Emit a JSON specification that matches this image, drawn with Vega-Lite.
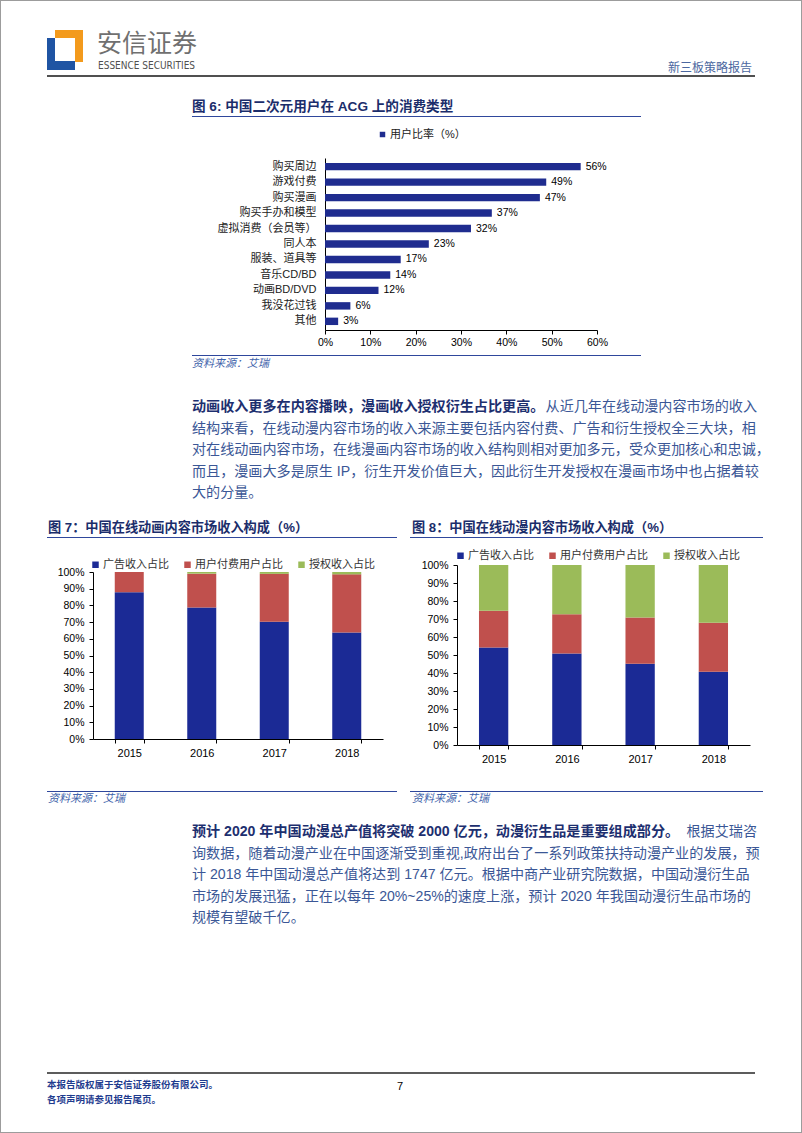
{
"$schema":"https://vega.github.io/schema/vega-lite/v6.json",
"width":802,"height":1133,
"autosize":{"type":"none"},
"padding":0,
"background":"white",
"view":{"stroke":"#9c9c9c","strokeWidth":2},
"config":{"font":"Liberation Sans, Noto Sans CJK SC","axis":{"grid":false,"domainColor":"#000","tickColor":"#000","labelColor":"#000","labelFont":"Liberation Sans, Noto Sans CJK SC"},"legend":{"labelFont":"Liberation Sans, Noto Sans CJK SC"}},
"datasets":{
"fig6":[{"cat":"购买周边","v":0.564,"s":"用户比率（%）"},{"cat":"游戏付费","v":0.488,"s":"用户比率（%）"},{"cat":"购买漫画","v":0.474,"s":"用户比率（%）"},{"cat":"购买手办和模型","v":0.368,"s":"用户比率（%）"},{"cat":"虚拟消费（会员等）","v":0.322,"s":"用户比率（%）"},{"cat":"同人本","v":0.229,"s":"用户比率（%）"},{"cat":"服装、道具等","v":0.167,"s":"用户比率（%）"},{"cat":"音乐CD/BD","v":0.144,"s":"用户比率（%）"},{"cat":"动画BD/DVD","v":0.118,"s":"用户比率（%）"},{"cat":"我没花过钱","v":0.056,"s":"用户比率（%）"},{"cat":"其他","v":0.029,"s":"用户比率（%）"}],
"fig7":[{"year":"2015","s":"广告收入占比","o":1,"v":0.879},{"year":"2015","s":"用户付费用户占比","o":2,"v":0.121},{"year":"2015","s":"授权收入占比","o":3,"v":0},{"year":"2016","s":"广告收入占比","o":1,"v":0.788},{"year":"2016","s":"用户付费用户占比","o":2,"v":0.202},{"year":"2016","s":"授权收入占比","o":3,"v":0.01},{"year":"2017","s":"广告收入占比","o":1,"v":0.702},{"year":"2017","s":"用户付费用户占比","o":2,"v":0.287},{"year":"2017","s":"授权收入占比","o":3,"v":0.011},{"year":"2018","s":"广告收入占比","o":1,"v":0.638},{"year":"2018","s":"用户付费用户占比","o":2,"v":0.348},{"year":"2018","s":"授权收入占比","o":3,"v":0.014}],
"fig8":[{"year":"2015","s":"广告收入占比","o":1,"v":0.541},{"year":"2015","s":"用户付费用户占比","o":2,"v":0.205},{"year":"2015","s":"授权收入占比","o":3,"v":0.254},{"year":"2016","s":"广告收入占比","o":1,"v":0.509},{"year":"2016","s":"用户付费用户占比","o":2,"v":0.217},{"year":"2016","s":"授权收入占比","o":3,"v":0.274},{"year":"2017","s":"广告收入占比","o":1,"v":0.452},{"year":"2017","s":"用户付费用户占比","o":2,"v":0.257},{"year":"2017","s":"授权收入占比","o":3,"v":0.291},{"year":"2018","s":"广告收入占比","o":1,"v":0.407},{"year":"2018","s":"用户付费用户占比","o":2,"v":0.272},{"year":"2018","s":"授权收入占比","o":3,"v":0.321}],
"p1":[{"line":1,"part":"b","text":"动画收入更多在内容播映，漫画收入授权衍生占比更高。"},{"line":1,"part":"t","text":"从近几年在线动漫内容市场的收入"},{"line":2,"part":"n","text":"结构来看，在线动漫内容市场的收入来源主要包括内容付费、广告和衍生授权全三大块，相"},{"line":3,"part":"n","text":"对在线动画内容市场，在线漫画内容市场的收入结构则相对更加多元，受众更加核心和忠诚，"},{"line":4,"part":"n","text":"而且，漫画大多是原生 IP，衍生开发价值巨大，因此衍生开发授权在漫画市场中也占据着较"},{"line":5,"part":"n","text":"大的分量。"}],
"p2":[{"line":1,"part":"b","text":"预计 2020 年中国动漫总产值将突破 2000 亿元，动漫衍生品是重要组成部分。"},{"line":1,"part":"t","text":"根据艾瑞咨"},{"line":2,"part":"n","text":"询数据，随着动漫产业在中国逐渐受到重视,政府出台了一系列政策扶持动漫产业的发展，预"},{"line":3,"part":"n","text":"计 2018 年中国动漫总产值将达到 1747 亿元。根据中商产业研究院数据，中国动漫衍生品"},{"line":4,"part":"n","text":"市场的发展迅猛，正在以每年 20%~25%的速度上涨，预计 2020 年我国动漫衍生品市场的"},{"line":5,"part":"n","text":"规模有望破千亿。"}]
},
"resolve":{"scale":{"x":"independent","y":"independent","color":"independent"},"axis":{"x":"independent","y":"independent"},"legend":{"color":"independent"}},
"layer":[
{"data":{"values":[{}]},
 "layer":[
  {"mark":{"type":"rect","color":"#f39a1c"},"encoding":{"x":{"datum":55,"type":"quantitative","scale":{"domain":[0,802],"nice":false,"zero":false},"axis":null},"x2":{"datum":83},"y":{"datum":30,"type":"quantitative","scale":{"domain":[0,1133],"reverse":true,"nice":false,"zero":false},"axis":null},"y2":{"datum":38}}},
  {"mark":{"type":"rect","color":"#f39a1c"},"encoding":{"x":{"datum":75,"type":"quantitative"},"x2":{"datum":83},"y":{"datum":30,"type":"quantitative"},"y2":{"datum":62}}},
  {"mark":{"type":"rect","color":"#1f54a3"},"encoding":{"x":{"datum":47,"type":"quantitative"},"x2":{"datum":55},"y":{"datum":38,"type":"quantitative"},"y2":{"datum":70}}},
  {"mark":{"type":"rect","color":"#1f54a3"},"encoding":{"x":{"datum":47,"type":"quantitative"},"x2":{"datum":75},"y":{"datum":61,"type":"quantitative"},"y2":{"datum":70}}},
  {"mark":{"type":"text","align":"left","baseline":"middle","fontSize":25,"color":"#707070","font":"Noto Sans CJK SC"},"encoding":{"x":{"datum":97,"type":"quantitative"},"y":{"datum":43.5,"type":"quantitative"},"text":{"value":"安信证券"}}},
  {"mark":{"type":"text","align":"left","baseline":"middle","fontSize":10,"color":"#505050","font":"DejaVu Sans Condensed, Liberation Sans Narrow, Liberation Sans"},"encoding":{"x":{"datum":98,"type":"quantitative"},"y":{"datum":65.5,"type":"quantitative"},"text":{"value":"ESSENCE SECURITIES"}}},
  {"mark":{"type":"text","align":"right","baseline":"middle","fontSize":12,"color":"#4b67a0"},"encoding":{"x":{"datum":752,"type":"quantitative"},"y":{"datum":67.5,"type":"quantitative"},"text":{"value":"新三板策略报告"}}},
  {"mark":{"type":"rule","color":"#505050","strokeWidth":2},"encoding":{"x":{"datum":47,"type":"quantitative"},"x2":{"datum":755},"y":{"datum":76,"type":"quantitative"}}},
  {"mark":{"type":"text","align":"left","baseline":"middle","fontSize":13.6,"fontWeight":"bold","color":"#1b2d6b"},"encoding":{"x":{"datum":192,"type":"quantitative"},"y":{"datum":107,"type":"quantitative"},"text":{"value":"图 6: 中国二次元用户在 ACG 上的消费类型"}}},
  {"mark":{"type":"rule","color":"#2f479c","strokeWidth":1},"encoding":{"x":{"datum":192,"type":"quantitative"},"x2":{"datum":641},"y":{"datum":116.5,"type":"quantitative"}}},
  {"mark":{"type":"rule","color":"#2f479c","strokeWidth":1},"encoding":{"x":{"datum":192,"type":"quantitative"},"x2":{"datum":641},"y":{"datum":355.5,"type":"quantitative"}}},
  {"mark":{"type":"text","align":"left","baseline":"middle","fontSize":11,"fontStyle":"italic","color":"#4062aa"},"encoding":{"x":{"datum":192,"type":"quantitative"},"y":{"datum":363.5,"type":"quantitative"},"text":{"value":"资料来源：艾瑞"}}},
  {"mark":{"type":"text","align":"left","baseline":"middle","fontSize":13.2,"fontWeight":"bold","color":"#1b2d6b"},"encoding":{"x":{"datum":48,"type":"quantitative"},"y":{"datum":528,"type":"quantitative"},"text":{"value":"图 7：中国在线动画内容市场收入构成（%）"}}},
  {"mark":{"type":"rule","color":"#2f479c","strokeWidth":1},"encoding":{"x":{"datum":47,"type":"quantitative"},"x2":{"datum":397},"y":{"datum":537.5,"type":"quantitative"}}},
  {"mark":{"type":"text","align":"left","baseline":"middle","fontSize":13.2,"fontWeight":"bold","color":"#1b2d6b"},"encoding":{"x":{"datum":412,"type":"quantitative"},"y":{"datum":528,"type":"quantitative"},"text":{"value":"图 8：中国在线动漫内容市场收入构成（%）"}}},
  {"mark":{"type":"rule","color":"#2f479c","strokeWidth":1},"encoding":{"x":{"datum":410,"type":"quantitative"},"x2":{"datum":763},"y":{"datum":537.5,"type":"quantitative"}}},
  {"mark":{"type":"rule","color":"#2f479c","strokeWidth":1},"encoding":{"x":{"datum":47,"type":"quantitative"},"x2":{"datum":397},"y":{"datum":791.5,"type":"quantitative"}}},
  {"mark":{"type":"text","align":"left","baseline":"middle","fontSize":11,"fontStyle":"italic","color":"#4062aa"},"encoding":{"x":{"datum":48,"type":"quantitative"},"y":{"datum":798.5,"type":"quantitative"},"text":{"value":"资料来源：艾瑞"}}},
  {"mark":{"type":"rule","color":"#2f479c","strokeWidth":1},"encoding":{"x":{"datum":410,"type":"quantitative"},"x2":{"datum":763},"y":{"datum":791.5,"type":"quantitative"}}},
  {"mark":{"type":"text","align":"left","baseline":"middle","fontSize":11,"fontStyle":"italic","color":"#4062aa"},"encoding":{"x":{"datum":412,"type":"quantitative"},"y":{"datum":798.5,"type":"quantitative"},"text":{"value":"资料来源：艾瑞"}}},
  {"mark":{"type":"rule","color":"#262626","strokeWidth":1.5},"encoding":{"x":{"datum":47,"type":"quantitative"},"x2":{"datum":755},"y":{"datum":1073,"type":"quantitative"}}},
  {"mark":{"type":"text","align":"left","baseline":"middle","fontSize":9.5,"fontWeight":"bold","color":"#1f3c8f"},"encoding":{"x":{"datum":47,"type":"quantitative"},"y":{"datum":1085,"type":"quantitative"},"text":{"value":"本报告版权属于安信证券股份有限公司。"}}},
  {"mark":{"type":"text","align":"left","baseline":"middle","fontSize":9.5,"fontWeight":"bold","color":"#1f3c8f"},"encoding":{"x":{"datum":47,"type":"quantitative"},"y":{"datum":1100,"type":"quantitative"},"text":{"value":"各项声明请参见报告尾页。"}}},
  {"mark":{"type":"text","align":"center","baseline":"middle","fontSize":11,"color":"#000000"},"encoding":{"x":{"datum":400,"type":"quantitative"},"y":{"datum":1087,"type":"quantitative"},"text":{"value":"7"}}}
 ]},
{"data":{"name":"p1"},
 "encoding":{"y":{"field":"line","type":"ordinal","scale":{"type":"point","domain":[1,2,3,4,5],"range":[407,493],"padding":0},"axis":null},"text":{"field":"text"}},
 "layer":[
  {"transform":[{"filter":"datum.part === 'b'"}],"mark":{"type":"text","align":"left","baseline":"middle","fontSize":14.1,"fontWeight":"bold","color":"#1d2f6f"},"encoding":{"x":{"datum":192,"type":"quantitative","scale":{"domain":[0,802],"nice":false,"zero":false},"axis":null}}},
  {"transform":[{"filter":"datum.part === 'n'"}],"mark":{"type":"text","align":"left","baseline":"middle","fontSize":14.1,"color":"#3b5796"},"encoding":{"x":{"datum":192,"type":"quantitative"}}},
  {"transform":[{"filter":"datum.part === 't'"}],"mark":{"type":"text","align":"right","baseline":"middle","fontSize":14.1,"color":"#3b5796"},"encoding":{"x":{"datum":757,"type":"quantitative"}}}
 ]},
{"data":{"name":"p2"},
 "encoding":{"y":{"field":"line","type":"ordinal","scale":{"type":"point","domain":[1,2,3,4,5],"range":[832,918],"padding":0},"axis":null},"text":{"field":"text"}},
 "layer":[
  {"transform":[{"filter":"datum.part === 'b'"}],"mark":{"type":"text","align":"left","baseline":"middle","fontSize":14.1,"fontWeight":"bold","color":"#1d2f6f"},"encoding":{"x":{"datum":192,"type":"quantitative","scale":{"domain":[0,802],"nice":false,"zero":false},"axis":null}}},
  {"transform":[{"filter":"datum.part === 'n'"}],"mark":{"type":"text","align":"left","baseline":"middle","fontSize":14.1,"color":"#3b5796"},"encoding":{"x":{"datum":192,"type":"quantitative"}}},
  {"transform":[{"filter":"datum.part === 't'"}],"mark":{"type":"text","align":"right","baseline":"middle","fontSize":14.1,"color":"#3b5796"},"encoding":{"x":{"datum":757,"type":"quantitative"}}}
 ]},
{"data":{"name":"fig6"},
 "encoding":{
  "y":{"field":"cat","type":"nominal","sort":null,"scale":{"range":[158,330],"paddingInner":0.52,"paddingOuter":0.32},"axis":{"orient":"left","offset":-325,"title":null,"ticks":false,"labelPadding":9,"labelFontSize":11,"labelColor":"#222222"}},
  "x":{"field":"v","type":"quantitative","scale":{"domain":[0,0.6],"range":[325,597],"nice":false},"axis":{"orient":"bottom","offset":-803,"title":null,"values":[0,0.1,0.2,0.3,0.4,0.5,0.6],"format":".0%","tickSize":4,"labelPadding":3,"labelFontSize":10.5,"labelFlush":false,"labelOverlap":false}}
 },
 "layer":[
  {"mark":{"type":"bar"},"encoding":{"color":{"field":"s","type":"nominal","scale":{"range":["#1f2c8f"]},"legend":{"orient":"none","legendX":377,"legendY":129,"direction":"horizontal","title":null,"symbolType":"square","symbolSize":30,"symbolStrokeWidth":0,"labelFontSize":11,"labelColor":"#222222","labelOffset":2,"padding":0}}}},
  {"mark":{"type":"text","align":"left","baseline":"middle","dx":5,"fontSize":10.5,"color":"#000000"},"encoding":{"text":{"field":"v","type":"quantitative","format":".0%"}}}
 ]},
{"data":{"name":"fig7"},"mark":{"type":"bar"},
 "encoding":{
  "x":{"field":"year","type":"nominal","scale":{"range":[93,383],"paddingInner":0.6,"paddingOuter":0.3},"axis":{"orient":"bottom","offset":-394,"title":null,"labelAngle":0,"tickBand":"extent","tickSize":4,"labelPadding":4,"labelFontSize":11}},
  "y":{"field":"v","type":"quantitative","stack":"zero","scale":{"domain":[0,1],"range":[739,572],"nice":false},"axis":{"orient":"left","offset":-93,"title":null,"values":[0,0.1,0.2,0.3,0.4,0.5,0.6,0.7,0.8,0.9,1],"format":".0%","tickSize":4,"labelPadding":5,"labelFontSize":10.5,"labelOverlap":false}},
  "color":{"field":"s","type":"nominal","scale":{"domain":["广告收入占比","用户付费用户占比","授权收入占比"],"range":["#1b2a95","#c0504d","#9bbb59"]},"legend":{"orient":"none","legendX":90,"legendY":559,"direction":"horizontal","title":null,"symbolType":"square","symbolSize":42,"symbolStrokeWidth":0,"labelFontSize":11,"labelColor":"#333333","labelOffset":2,"columnPadding":13,"padding":0}},
  "order":{"field":"o","type":"quantitative"}
 }},
{"data":{"name":"fig8"},"mark":{"type":"bar"},
 "encoding":{
  "x":{"field":"year","type":"nominal","scale":{"range":[457,750],"paddingInner":0.6,"paddingOuter":0.3},"axis":{"orient":"bottom","offset":-388,"title":null,"labelAngle":0,"tickBand":"extent","tickSize":4,"labelPadding":4,"labelFontSize":11}},
  "y":{"field":"v","type":"quantitative","stack":"zero","scale":{"domain":[0,1],"range":[745,565],"nice":false},"axis":{"orient":"left","offset":-457,"title":null,"values":[0,0.1,0.2,0.3,0.4,0.5,0.6,0.7,0.8,0.9,1],"format":".0%","tickSize":4,"labelPadding":5,"labelFontSize":10.5,"labelOverlap":false}},
  "color":{"field":"s","type":"nominal","scale":{"domain":["广告收入占比","用户付费用户占比","授权收入占比"],"range":["#1b2a95","#c0504d","#9bbb59"]},"legend":{"orient":"none","legendX":455,"legendY":550,"direction":"horizontal","title":null,"symbolType":"square","symbolSize":42,"symbolStrokeWidth":0,"labelFontSize":11,"labelColor":"#333333","labelOffset":2,"columnPadding":13,"padding":0}},
  "order":{"field":"o","type":"quantitative"}
 }}
]
}
